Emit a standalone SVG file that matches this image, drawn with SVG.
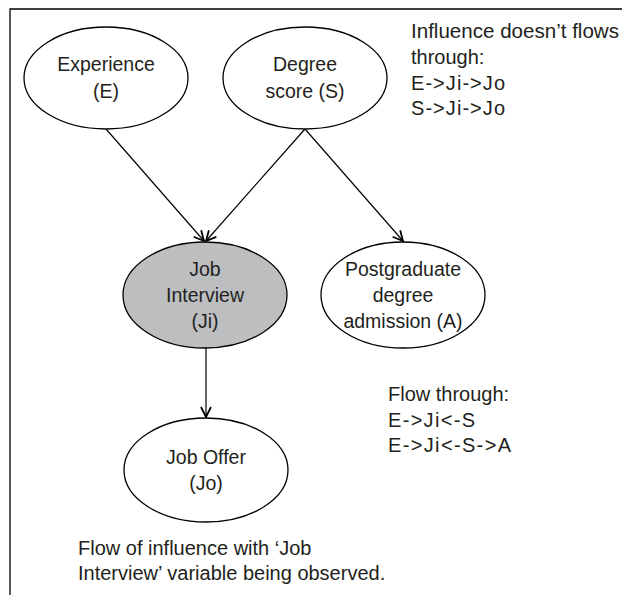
<svg xmlns="http://www.w3.org/2000/svg" width="622" height="595" viewBox="0 0 622 595">
<defs>
<style>
.n{fill:#fff;stroke:#000;stroke-width:1.3}
.obs{fill:#bcbec0}
.t{font-family:"Liberation Sans",Arial,sans-serif;font-size:20px;fill:#231f20}
.in{font-size:19.5px}
.c{text-anchor:middle}
.e{stroke:#000;stroke-width:1.2;fill:none;marker-end:url(#ah)}
</style>
<marker id="ah" markerUnits="userSpaceOnUse" markerWidth="14" markerHeight="14" refX="11" refY="6" orient="auto">
<path d="M1,1 L11,6 L1,11" fill="none" stroke="#000" stroke-width="1.8"/>
</marker>
</defs>
<rect width="622" height="595" fill="#fff"/>
<path d="M10,595 V9 H622" fill="none" stroke="#000" stroke-width="1.3"/>
<g id="connectors">
<line class="e" x1="106" y1="129" x2="204" y2="241"/>
<line class="e" x1="305" y1="129" x2="206" y2="241"/>
<line class="e" x1="305" y1="129" x2="403" y2="241"/>
<line class="e" x1="206" y1="348" x2="206" y2="417"/>
</g>
<g id="E">
<ellipse class="n" cx="106" cy="78" rx="82" ry="51"/>
<text class="t in c" x="106" y="71">Experience</text>
<text class="t in c" x="106" y="98">(E)</text>
</g>
<g id="S">
<ellipse class="n" cx="305" cy="78" rx="82" ry="51"/>
<text class="t in c" x="305" y="71">Degree</text>
<text class="t in c" x="305" y="98">score (S)</text>
</g>
<g id="Ji">
<ellipse class="n obs" cx="205" cy="295" rx="82" ry="53"/>
<text class="t in c" x="205" y="276">Job</text>
<text class="t in c" x="205" y="302">Interview</text>
<text class="t in c" x="205" y="328">(Ji)</text>
</g>
<g id="A">
<ellipse class="n" cx="403" cy="295" rx="82" ry="53"/>
<text class="t in c" x="403" y="276">Postgraduate</text>
<text class="t in c" x="403" y="302">degree</text>
<text class="t in c" x="403" y="328">admission (A)</text>
</g>
<g id="Jo">
<ellipse class="n" cx="206" cy="470" rx="82" ry="52"/>
<text class="t in c" x="206" y="464">Job Offer</text>
<text class="t in c" x="206" y="490">(Jo)</text>
</g>
<g id="notes">
<text class="t" x="411" y="38" textLength="208" lengthAdjust="spacingAndGlyphs">Influence doesn’t flows</text>
<text class="t" x="411" y="64">through:</text>
<text class="t" x="411" y="90" textLength="94" lengthAdjust="spacing">E-&gt;Ji-&gt;Jo</text>
<text class="t" x="411" y="115" textLength="94" lengthAdjust="spacing">S-&gt;Ji-&gt;Jo</text>
<text class="t" x="388" y="401">Flow through:</text>
<text class="t" x="388" y="427" textLength="87" lengthAdjust="spacing">E-&gt;Ji&lt;-S</text>
<text class="t" x="388" y="452" textLength="123" lengthAdjust="spacing">E-&gt;Ji&lt;-S-&gt;A</text>
<text class="t" x="78" y="555">Flow of influence with ‘Job</text>
<text class="t" x="78" y="580">Interview’ variable being observed.</text>
</g>
</svg>
